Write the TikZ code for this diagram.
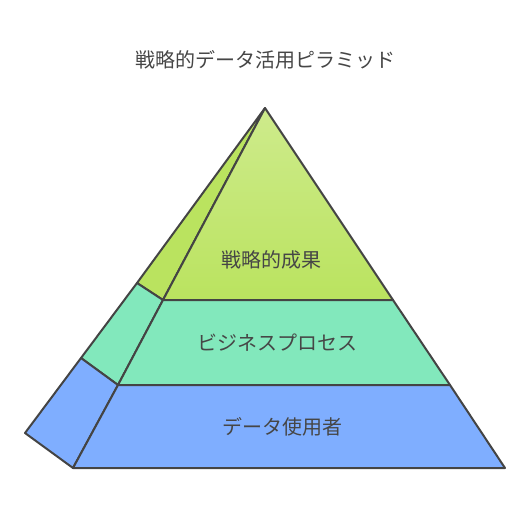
\documentclass[tikz,border=0pt]{standalone}
\usepackage{fontspec}
\setmainfont{Noto Sans CJK JP}
\definecolor{edgegray}{RGB}{68,68,68}
\definecolor{txtgray}{RGB}{70,70,70}
\definecolor{goalgreen}{RGB}{186,227,95}
\definecolor{goallight}{RGB}{206,235,140}
\definecolor{procmint}{RGB}{130,232,188}
\definecolor{userblue}{RGB}{127,174,255}
\tikzset{
  face/.style={draw=edgegray,line width=1.5pt,line join=round},
  lbl/.style={inner sep=0.75pt,text=txtgray,font=\fontsize{15}{18}\selectfont}
}
\begin{document}
\begin{tikzpicture}[x=0.75pt,y=0.75pt,yscale=-1,xscale=1]
\path (0,0) rectangle (530,518);

%Shape: side faces
\draw [face,fill=goalgreen] (265,108) -- (163,300) -- (137,283) -- cycle ;
\draw [face,fill=procmint] (137,283) -- (163,300) -- (118,385) -- (81,358) -- cycle ;
\draw [face,fill=userblue] (81,358) -- (118,385) -- (73,468) -- (25,433) -- cycle ;

%Shape: front faces
\draw [face,top color=goallight,bottom color=goalgreen] (265,108) -- (393,300) -- (163,300) -- cycle ;
\draw [face,fill=procmint] (163,300) -- (393,300) -- (450,385) -- (118,385) -- cycle ;
\draw [face,fill=userblue] (118,385) -- (450,385) -- (505,468) -- (73,468) -- cycle ;

% Text Node
\node [lbl] (title) at (265,60) {戦略的データ活用ピラミッド};
% Text Node
\node [lbl] (goal) at (271,260) {戦略的成果};
% Text Node
\node [lbl] (proc) at (277,343) {ビジネスプロセス};
% Text Node
\node [lbl] (users) at (282,427) {データ使用者};

\end{tikzpicture}
\end{document}
